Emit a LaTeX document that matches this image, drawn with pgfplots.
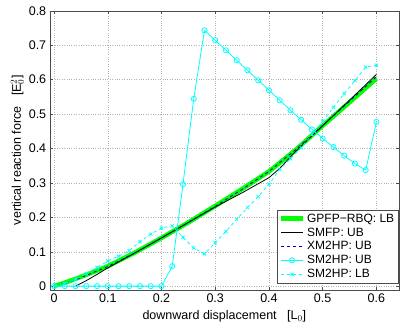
\documentclass[border=0pt]{standalone}
\usepackage{pgfplots}
\pgfplotsset{compat=1.18}
\usepackage{fontspec}
\setmainfont{Liberation Sans}
\definecolor{mgreen}{rgb}{0,1,0}
\definecolor{mcyan}{rgb}{0,1,1}
\definecolor{mblue}{rgb}{0,0,0.8}
\begin{document}
\begin{tikzpicture}
\begin{axis}[
    scale only axis,
    width=349pt, height=279pt,
    xmin=-0.008, xmax=0.642,
    ymin=-0.011, ymax=0.8,
    xtick={0,0.1,...,0.6},
    ytick={0,0.1,...,0.8},
    /pgf/number format/assume math mode=true,
    font=\fontsize{12.5}{14}\selectfont,
    tick align=inside,
    tick style={gray!60!black, thin},
    major tick length=3pt,
    axis line style={gray!60!black},
    grid=major,
    grid style={dotted, gray!60},
    xlabel={downward displacement~~~[L$_0$]},
    ylabel={vertical reaction force~~~[E$_0^2$]},
    xlabel style={yshift=-1pt},
    ylabel style={yshift=-2pt},
    legend style={at={(rel axis cs:0.997,0.025)}, anchor=south east,
        font=\fontsize{12}{13}\selectfont, draw=gray!60!black,
        inner sep=1.5pt, row sep=0pt, cells={anchor=west}},
    legend cell align=left,
    legend image code/.code={\draw[mark repeat=2, mark phase=2, #1]
        plot coordinates {(0cm,0cm) (0.38cm,0cm) (0.76cm,0cm)};},
]
\addplot[mgreen, line width=4.5pt] coordinates {
    (0,0) (0.02,0.01) (0.04,0.021) (0.06,0.033) (0.08,0.045) (0.1,0.058)
    (0.15,0.097) (0.2,0.14) (0.25,0.185) (0.3,0.233) (0.35,0.282)
    (0.4,0.333) (0.45,0.396) (0.5,0.466) (0.55,0.534) (0.6,0.603)
};
\addlegendentry{GPFP\textminus RBQ: LB}
\addplot[black, thick] coordinates {
    (0.04,0) (0.06,0.016) (0.08,0.034) (0.1,0.053) (0.15,0.096) (0.2,0.14)
    (0.25,0.185) (0.3,0.23) (0.35,0.271) (0.4,0.315) (0.42,0.342)
    (0.45,0.392) (0.5,0.466) (0.55,0.54) (0.6,0.615)
};
\addlegendentry{SMFP: UB}
\addplot[mblue, thick, dashed] coordinates {
    (0,0) (0.02,0.008) (0.04,0.019) (0.06,0.031) (0.08,0.044) (0.1,0.057)
    (0.15,0.096) (0.2,0.14) (0.25,0.185) (0.3,0.232) (0.35,0.281)
    (0.4,0.333) (0.45,0.397) (0.5,0.467) (0.55,0.537) (0.6,0.608)
};
\addlegendentry{XM2HP: UB}
\addplot[mcyan, thick, mark=o, mark size=2.6pt, mark options={solid}] coordinates {
    (0,0) (0.02,0) (0.04,0) (0.06,0) (0.08,0) (0.1,0) (0.12,0) (0.14,0)
    (0.16,0) (0.18,0) (0.2,0) (0.22,0.058) (0.24,0.296) (0.26,0.544)
    (0.28,0.743) (0.3,0.714) (0.32,0.685) (0.34,0.656) (0.36,0.627)
    (0.38,0.598) (0.4,0.569) (0.42,0.54) (0.44,0.511) (0.46,0.483)
    (0.48,0.455) (0.5,0.429) (0.52,0.404) (0.54,0.379) (0.56,0.356)
    (0.58,0.337) (0.6,0.477)
};
\addlegendentry{SM2HP: UB}
\addplot[mcyan, thick, dashed, mark=x, mark size=2.2pt, mark options={solid}] coordinates {
    (0,0) (0.02,0.008) (0.04,0.02) (0.06,0.037) (0.08,0.054) (0.1,0.073)
    (0.12,0.087) (0.14,0.103) (0.16,0.129) (0.18,0.151) (0.2,0.169)
    (0.22,0.175) (0.24,0.142) (0.26,0.111) (0.28,0.094) (0.3,0.126)
    (0.32,0.159) (0.34,0.194) (0.36,0.228) (0.38,0.26) (0.4,0.296)
    (0.42,0.339) (0.44,0.37) (0.46,0.402) (0.48,0.44) (0.5,0.479)
    (0.52,0.519) (0.54,0.559) (0.56,0.597) (0.58,0.636) (0.6,0.642)
};
\addlegendentry{SM2HP: LB}
\end{axis}
\path (current axis.south west) ++(-49.7pt,-36pt) (current axis.north east) ++(10pt,10.7pt);
\end{tikzpicture}
\end{document}
